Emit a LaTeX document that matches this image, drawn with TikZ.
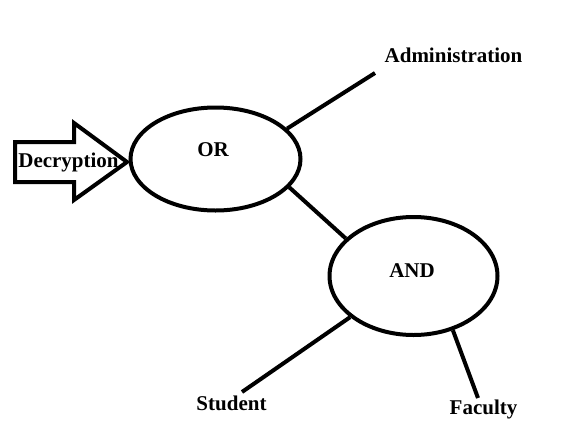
\documentclass[tikz,border=0pt]{standalone}
\usepackage{fontspec}
\setmainfont{Liberation Serif}
\usetikzlibrary{shapes.geometric}
\begin{document}
\begin{tikzpicture}[x=1pt,y=-1pt,
  wire/.style={line width=4pt,draw=black},
  gate/.style={ellipse,draw=black,line width=4pt,inner sep=0pt},
  lbl/.style={inner sep=0pt,font=\fontsize{21}{25}\selectfont\bfseries,text=black}]
\useasboundingbox (0,0) rectangle (576,421);
% block arrow
\draw[wire,line join=miter] (15,142) -- (74,142) -- (74,123) -- (127,162) -- (74,200) -- (74,182) -- (15,182) -- cycle;
\node[lbl] (dec) at (68.5,162) {Decryption};
% gates
\node[gate,minimum width=170pt,minimum height=103pt] (or) at (215.5,159) {};
\node[lbl] (orlbl) at (213,150) {OR};
\node[gate,minimum width=168pt,minimum height=118pt] (and) at (413.5,276) {};
\node[lbl] (andlbl) at (412,271) {AND};
% leaves
\node[lbl] (adm) at (453.5,55) {Administration};
\node[lbl] (stu) at (231.5,403) {Student};
\node[lbl] (fac) at (483.5,409) {Faculty};
\coordinate (admEnd) at (375,73);
\coordinate (stuEnd) at (242,392);
\coordinate (facEnd) at (478,398);
% connectors
\draw[wire] (or.23) -- (admEnd);
\draw[wire] (or.-21) -- (and.151.6);
\draw[wire] (and.213.5) -- (stuEnd);
\draw[wire] (and.-54.8) -- (facEnd);
\end{tikzpicture}
\end{document}
